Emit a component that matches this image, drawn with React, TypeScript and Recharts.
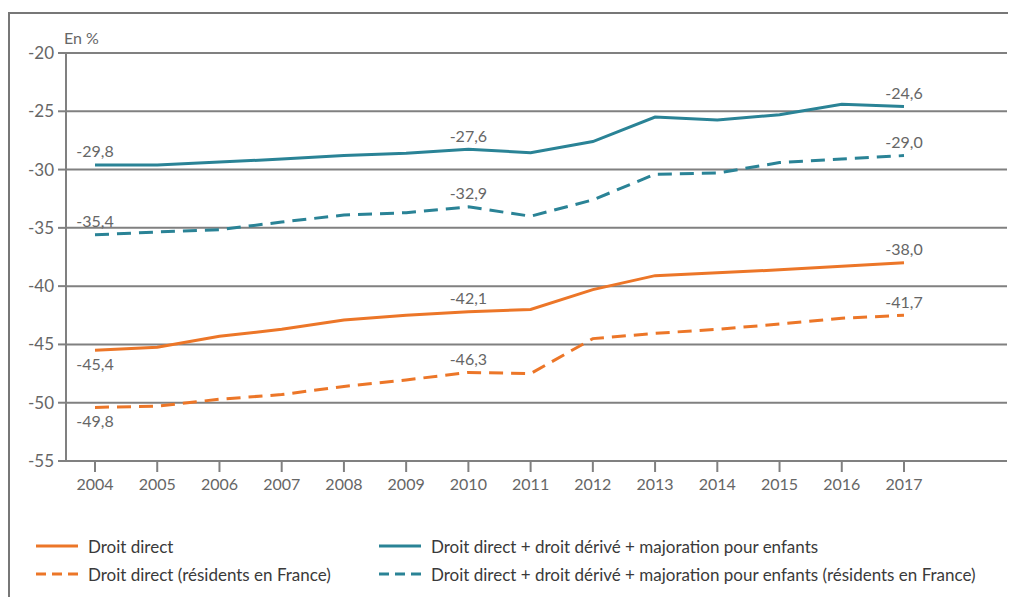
import { CartesianGrid, Line, LineChart, XAxis, YAxis } from 'recharts';

const years = ['2004', '2005', '2006', '2007', '2008', '2009', '2010', '2011', '2012', '2013', '2014', '2015', '2016', '2017'];

const droitDirect = [-45.5, -45.25, -44.3, -43.7, -42.9, -42.5, -42.2, -42.0, -40.3, -39.1, -38.85, -38.6, -38.3, -38.0];
const droitDirectFrance = [-50.4, -50.3, -49.7, -49.3, -48.6, -48.05, -47.4, -47.5, -44.5, -44.05, -43.7, -43.25, -42.75, -42.5];
const droitTotal = [-29.6, -29.6, -29.35, -29.1, -28.8, -28.6, -28.25, -28.55, -27.6, -25.5, -25.75, -25.3, -24.4, -24.6];
const droitTotalFrance = [-35.6, -35.35, -35.15, -34.5, -33.9, -33.7, -33.2, -34.0, -32.6, -30.4, -30.3, -29.4, -29.1, -28.8];

// labels shown only for these years
const labelYears = ['2004', '2010', '2017'];
const droitDirectLabels = ['-45,4', '-42,1', '-38,0'];
const droitDirectFranceLabels = ['-49,8', '-46,3', '-41,7'];
const droitTotalLabels = ['-29,8', '-27,6', '-24,6'];
const droitTotalFranceLabels = ['-35,4', '-32,9', '-29,0'];

const yTicks = [-55, -50, -45, -40, -35, -30, -25, -20];

const ORANGE = '#EC7628';
const TEAL = '#2A8396';
const GRID = '#808080';
const TEXT = '#666666';
const FONT = 'Lato, "Open Sans", sans-serif';

const data = years.map((year, i) => ({
  year,
  droitDirect: droitDirect[i],
  droitDirectFrance: droitDirectFrance[i],
  droitTotal: droitTotal[i],
  droitTotalFrance: droitTotalFrance[i],
}));

const series = [
  { key: 'droitDirect', name: 'Droit direct', color: ORANGE, dashed: false, labels: droitDirectLabels },
  { key: 'droitDirectFrance', name: 'Droit direct (résidents en France)', color: ORANGE, dashed: true, labels: droitDirectFranceLabels },
  { key: 'droitTotal', name: 'Droit direct + droit dérivé + majoration pour enfants', color: TEAL, dashed: false, labels: droitTotalLabels },
  {
    key: 'droitTotalFrance',
    name: 'Droit direct + droit dérivé + majoration pour enfants (résidents en France)',
    color: TEAL,
    dashed: true,
    labels: droitTotalFranceLabels,
  },
];

const makeLabel = (labels: string[], seriesKey: string) => (props: any) => {
  const { x, y, index } = props;
  const pos = labelYears.indexOf(years[index]);
  if (pos < 0) return null;
  // orange series put their first label under the line
  const below = pos === 0 && (seriesKey === 'droitDirect' || seriesKey === 'droitDirectFrance');
  return (
    <text
      key={seriesKey + index}
      x={x}
      y={below ? y + 13 : y - 14}
      textAnchor='middle'
      dominantBaseline='central'
      fill={TEXT}
      fontSize={16}
      fontFamily={FONT}
    >
      {labels[pos]}
    </text>
  );
};

const legendPos = [
  { left: 36, top: 546 },
  { left: 36, top: 574 },
  { left: 379, top: 546 },
  { left: 379, top: 574 },
];

const App = () => {
  return (
    <div style={{ position: 'relative', width: 1008, height: 589, overflow: 'hidden' }}>
      <div
        style={{
          position: 'absolute',
          left: 0,
          top: 4,
          width: 1100,
          height: 700,
          borderTop: '2px solid #777',
          borderLeft: '2px solid #777',
        }}
      />
      <div style={{ position: 'absolute', left: -8, top: -8 }}>
        <LineChart
          width={1016}
          height={597}
          data={data}
          margin={{ top: 53, right: 9, left: 6, bottom: 96 }}
          style={{ fontFamily: FONT }}
        >
          <CartesianGrid vertical={false} stroke={GRID} strokeWidth={2} />
          <XAxis
            dataKey='year'
            scale='point'
            padding={{ left: 29, right: 103 }}
            height={40}
            tickSize={11}
            tickMargin={7}
            axisLine={{ stroke: GRID, strokeWidth: 2 }}
            tickLine={{ stroke: GRID, strokeWidth: 2 }}
            tick={{ fill: TEXT, fontSize: 16 }}
            interval={0}
          />
          <YAxis
            domain={[-55, -20]}
            ticks={yTicks}
            width={60}
            tickSize={8}
            tickMargin={4}
            axisLine={{ stroke: GRID, strokeWidth: 2 }}
            tickLine={{ stroke: GRID, strokeWidth: 2 }}
            tick={{ fill: TEXT, fontSize: 17 }}
            allowDataOverflow
          />
          {series.map((s) => (
            <Line
              key={s.key}
              type='linear'
              dataKey={s.key}
              name={s.name}
              stroke={s.color}
              strokeWidth={3}
              strokeDasharray={s.dashed ? '14 8' : undefined}
              dot={false}
              activeDot={false}
              isAnimationActive={false}
              label={makeLabel(s.labels, s.key)}
            />
          ))}
        </LineChart>
        <div
          style={{
            position: 'absolute',
            left: 64,
            top: 29,
            fontFamily: FONT,
            fontSize: 16,
            lineHeight: '18px',
            color: TEXT,
          }}
        >
          En %
        </div>
        {series.map((s, i) => (
          <div
            key={s.key}
            style={{
              position: 'absolute',
              left: legendPos[i].left,
              top: legendPos[i].top - 11,
              height: 22,
              display: 'flex',
              alignItems: 'center',
              fontFamily: FONT,
              fontSize: 17,
              color: '#3a3a3a',
              whiteSpace: 'nowrap',
            }}
          >
            <svg width={42} height={6} style={{ marginRight: 10 }}>
              <line
                x1={0}
                y1={3}
                x2={42}
                y2={3}
                stroke={s.color}
                strokeWidth={3}
                strokeDasharray={s.dashed ? '10 6' : undefined}
              />
            </svg>
            {s.name}
          </div>
        ))}
      </div>
    </div>
  );
};

export default App;
